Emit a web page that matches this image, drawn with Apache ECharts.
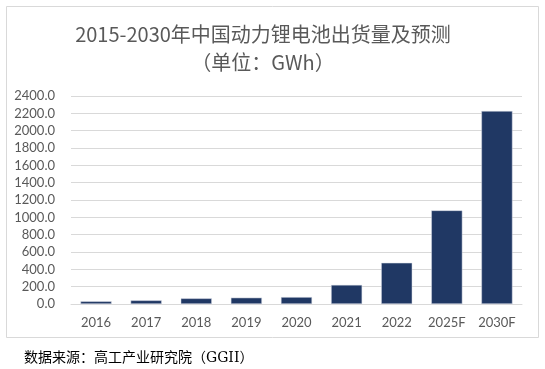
<!DOCTYPE html>
<html>
<head>
<meta charset="utf-8">
<script src="https://cdn.jsdelivr.net/npm/echarts@6/dist/echarts.min.js"></script>
<style>
html,body{margin:0;padding:0;background:#fff;}
#c{width:545px;height:369px;}
</style>
</head>
<body>
<div id="c"></div>
<script>
const categories = ['2016','2017','2018','2019','2020','2021','2022','2025F','2030F'];
const shipments = [31, 42, 65, 73, 80, 220, 475, 1080, 2227];
const yTicks = { min: 0, max: 2400, interval: 200 };
const titleLine1 = '2015-2030年中国动力锂电池出货量及预测';
const titleLine2 = '（单位：GWh）';
const sourceText = '数据来源：高工产业研究院（GGII）';

const chart = echarts.init(document.getElementById('c'), null, {renderer:'canvas'});
chart.setOption({
  animation: false,
  backgroundColor: '#ffffff',
  graphic: [
    { type:'rect', shape:{x:6.5,y:6.5,width:532,height:331}, style:{fill:'none',stroke:'#d9d9d9',lineWidth:1}, silent:true, z:-1 },
    { type:'text', x:263, y:34, style:{ text:titleLine1, fill:'#595959', font:'20px "Noto Sans CJK SC", sans-serif', textAlign:'center', textVerticalAlign:'middle' } },
    { type:'text', x:263, y:62, style:{ text:titleLine2, fill:'#595959', font:'20px "Noto Sans CJK SC", sans-serif', textAlign:'center', textVerticalAlign:'middle' } },
    { type:'text', x:24, y:358, style:{ text:sourceText, fill:'#000000', font:'14px "DejaVu Serif", "Liberation Serif", "Noto Sans CJK SC", serif', textAlign:'left', textVerticalAlign:'middle' } }
  ],
  grid: { left:71, right:23, top:96, bottom:65 },
  xAxis: {
    type:'category',
    data: categories,
    axisLine:{ lineStyle:{ color:'#d9d9d9', width:1 } },
    axisTick:{ show:false },
    axisLabel:{ color:'#595959', fontSize:13, fontFamily:'Lato, "Open Sans", sans-serif', margin:12 }
  },
  yAxis: {
    type:'value',
    min: yTicks.min, max: yTicks.max, interval: yTicks.interval,
    axisLine:{ show:false },
    axisTick:{ show:false },
    splitLine:{ lineStyle:{ color:'#d9d9d9', width:1 } },
    axisLabel:{ color:'#595959', fontSize:13, fontFamily:'Lato, "Open Sans", sans-serif', margin:16, formatter: v => v.toFixed(1) }
  },
  series: [{
    type:'bar',
    data: shipments,
    barWidth:'62%',
    itemStyle:{ color:'#203864', borderColor:'#d9dde6', borderWidth:0.5 }
  }]
});
</script>
</body>
</html>
